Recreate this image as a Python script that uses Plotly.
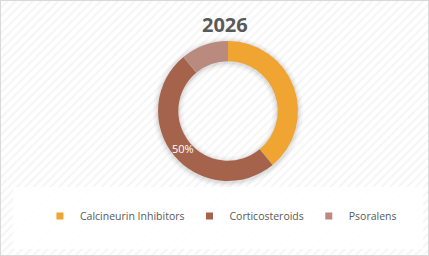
import math
import plotly.graph_objects as go

# Data
title_text = "2026"
categories = ["Calcineurin Inhibitors", "Corticosteroids", "Psoralens"]
values = [39, 50, 11]
slice_labels = ["", "50%", ""]
colors = ["#F0A431", "#A5634B", "#B98A7D"]

W, H = 429, 256
FONT = "Open Sans"
CX, CY, R, HOLE = 228, 111, 70, 0.71

fig = go.Figure()

# hatched background (decoration)
fig.add_trace(go.Scatter(
    x=[0, 1, 1, 0, 0], y=[0, 0, 1, 1, 0], mode="none", fill="toself",
    fillcolor="white",
    fillpattern=dict(shape="/", fgcolor="#ececec", bgcolor="white", size=6, solidity=0.35),
    hoverinfo="skip", showlegend=False,
))
# whiter legend panel
fig.add_trace(go.Scatter(
    x=[13/W, 423/W, 423/W, 13/W, 13/W],
    y=[1-249/H, 1-249/H, 1-187/H, 1-187/H, 1-249/H],
    mode="none", fill="toself", fillcolor="rgba(255,255,255,0.85)",
    hoverinfo="skip", showlegend=False,
))

# soft shadow rings behind the donut
for grow, alpha in [(5, 0.03), (3, 0.04), (1.5, 0.05)]:
    r2 = R + grow
    fig.add_trace(go.Pie(
        values=[1], labels=["s"], textinfo="none", hoverinfo="skip",
        marker=dict(colors=[f"rgba(0,0,0,{alpha})"], line=dict(width=0)),
        hole=max(0.0, (R * HOLE - grow) / r2), sort=False, showlegend=False,
        domain=dict(x=[(CX - r2) / W, (CX + r2) / W],
                    y=[1 - (CY + 1 + r2) / H, 1 - (CY + 1 - r2) / H]),
    ))

# donut
fig.add_trace(go.Pie(
    labels=categories, values=values, textinfo="none",
    marker=dict(colors=colors, line=dict(width=0)),
    hole=HOLE, sort=False, direction="clockwise", rotation=0,
    domain=dict(x=[(CX - R) / W, (CX + R) / W], y=[1 - (CY + R) / H, 1 - (CY - R) / H]),
    showlegend=False, hoverinfo="label+percent",
))

# slice labels placed at each slice's mid angle
annotations = []
total = sum(values)
cum = 0
rmid = R * (1 + HOLE) / 2 - 1
for v, t in zip(values, slice_labels):
    mid = (cum + v / 2) / total * 2 * math.pi
    cum += v
    if not t:
        continue
    px = CX + rmid * math.sin(mid)
    py = CY - rmid * math.cos(mid)
    annotations.append(dict(text=t, x=px / W, y=1 - py / H, xref="paper", yref="paper",
                            showarrow=False, xanchor="center", yanchor="middle",
                            font=dict(family=FONT, size=11, color="white")))

annotations.append(dict(text="<b>" + title_text + "</b>", x=225/W, y=1-24/H,
                        xref="paper", yref="paper", showarrow=False,
                        xanchor="center", yanchor="middle",
                        font=dict(family=FONT, size=20, color="#595959")))

# legend entries
for name, col in zip(categories, colors):
    fig.add_trace(go.Scatter(
        x=[None], y=[None], mode="markers", name=name,
        marker=dict(symbol="square", size=7, color=col),
    ))

fig.update_layout(
    width=W, height=H,
    margin=dict(l=0, r=0, t=0, b=0),
    paper_bgcolor="white", plot_bgcolor="white",
    xaxis=dict(range=[0, 1], visible=False, fixedrange=True),
    yaxis=dict(range=[0, 1], visible=False, fixedrange=True),
    showlegend=True,
    legend=dict(orientation="h", x=0.515, xanchor="center", y=1-216/H, yanchor="middle",
                font=dict(family=FONT, size=10.5, color="#595959"),
                bgcolor="rgba(0,0,0,0)", itemclick=False, itemdoubleclick=False),
    annotations=annotations,
    shapes=[dict(type="rect", xref="paper", yref="paper", x0=0, y0=0, x1=1, y1=1,
                 line=dict(color="#d9d9d9", width=2), layer="above")],
)

fig.write_html("out.html")
